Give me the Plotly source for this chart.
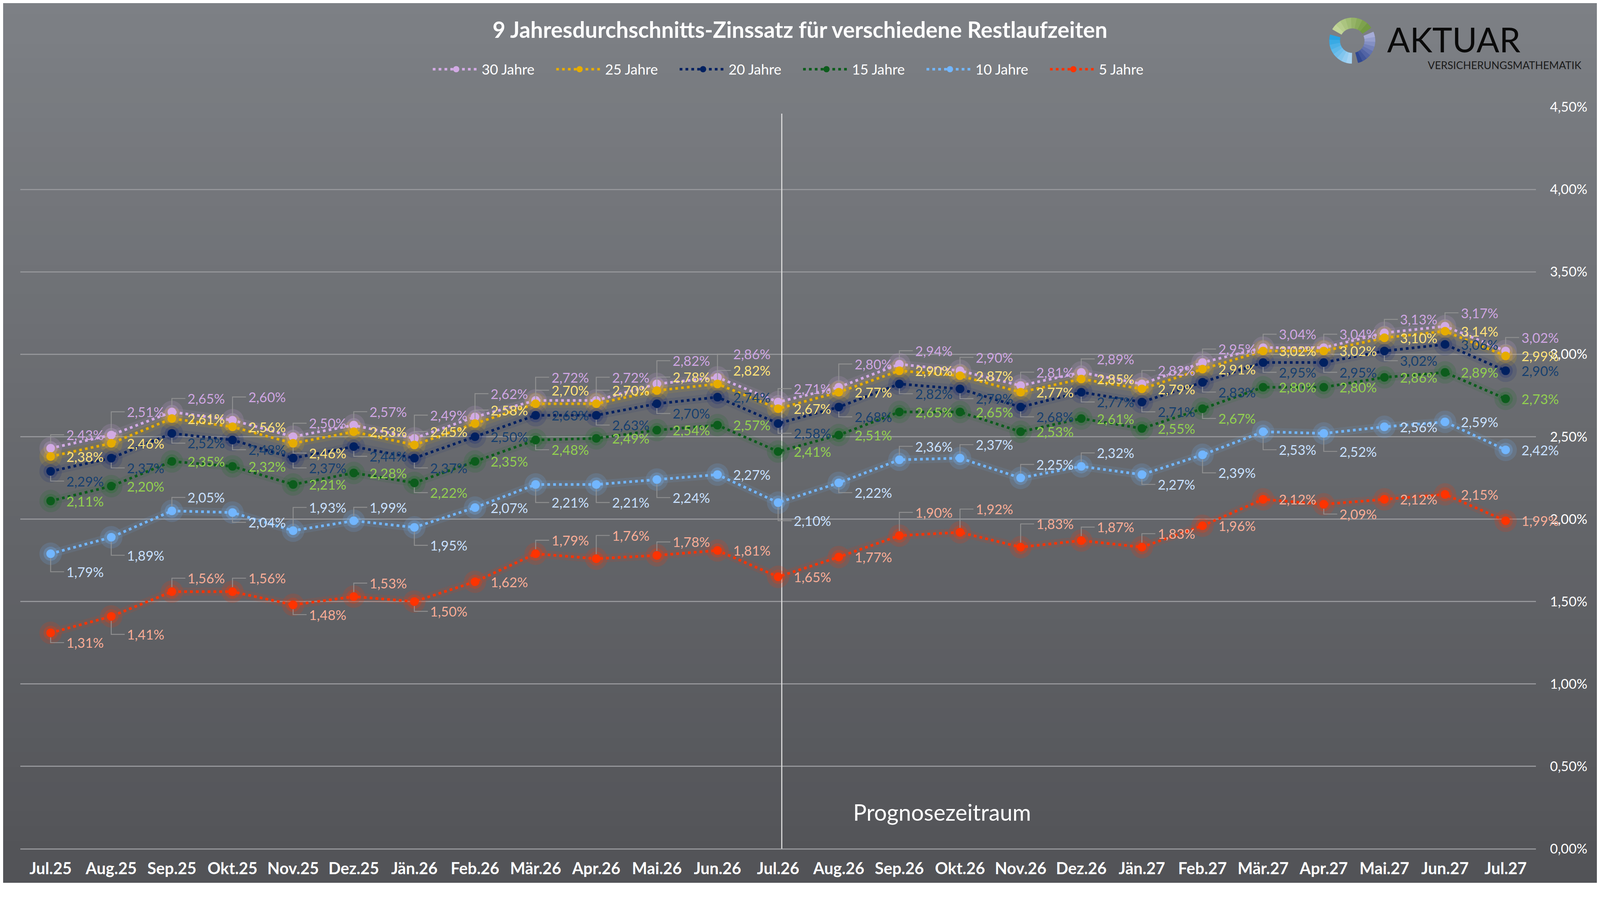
import numpy as np
import plotly.graph_objects as go

months = ["Jul.25", "Aug.25", "Sep.25", "Okt.25", "Nov.25", "Dez.25", "Jän.26",
          "Feb.26", "Mär.26", "Apr.26", "Mai.26", "Jun.26", "Jul.26", "Aug.26",
          "Sep.26", "Okt.26", "Nov.26", "Dez.26", "Jän.27", "Feb.27", "Mär.27",
          "Apr.27", "Mai.27", "Jun.27", "Jul.27"]

j30 = [2.43, 2.51, 2.65, 2.60, 2.50, 2.57, 2.49, 2.62, 2.72, 2.72, 2.82, 2.86, 2.71,
       2.80, 2.94, 2.90, 2.81, 2.89, 2.82, 2.95, 3.04, 3.04, 3.13, 3.17, 3.02]
j25 = [2.38, 2.46, 2.61, 2.56, 2.46, 2.53, 2.45, 2.58, 2.70, 2.70, 2.78, 2.82, 2.67,
       2.77, 2.90, 2.87, 2.77, 2.85, 2.79, 2.91, 3.02, 3.02, 3.10, 3.14, 2.99]
j20 = [2.29, 2.37, 2.52, 2.48, 2.37, 2.44, 2.37, 2.50, 2.63, 2.63, 2.70, 2.74, 2.58,
       2.68, 2.82, 2.79, 2.68, 2.77, 2.71, 2.83, 2.95, 2.95, 3.02, 3.06, 2.90]
j15 = [2.11, 2.20, 2.35, 2.32, 2.21, 2.28, 2.22, 2.35, 2.48, 2.49, 2.54, 2.57, 2.41,
       2.51, 2.65, 2.65, 2.53, 2.61, 2.55, 2.67, 2.80, 2.80, 2.86, 2.89, 2.73]
j10 = [1.79, 1.89, 2.05, 2.04, 1.93, 1.99, 1.95, 2.07, 2.21, 2.21, 2.24, 2.27, 2.10,
       2.22, 2.36, 2.37, 2.25, 2.32, 2.27, 2.39, 2.53, 2.52, 2.56, 2.59, 2.42]
j5 = [1.31, 1.41, 1.56, 1.56, 1.48, 1.53, 1.50, 1.62, 1.79, 1.76, 1.78, 1.81, 1.65,
      1.77, 1.90, 1.92, 1.83, 1.87, 1.83, 1.96, 2.12, 2.09, 2.12, 2.15, 1.99]

names = ["30 Jahre", "25 Jahre", "20 Jahre", "15 Jahre", "10 Jahre", "5 Jahre"]
series = [j30, j25, j20, j15, j10, j5]

# label placement per point: r = right, u/U = above right, d/D = below right
label_pos = [
    "uUuUuuUUUUUUuUuuuuuuuuuuu",
    "rrrrdruuuuuurrrrrrrrrrrrr",
    "dddddddrrddrdddddddddddrr",
    "rrrrrrdrdrrrrrrrrrrdrrrrr",
    "DDudUuDrDDDrDduuuudDDDrrr",
    "dDuududruUurrrUUUuurrdrrr",
]
offs = {"r": 0, "u": -36, "U": -62, "d": 26, "D": 48}

line_col = ["#d2aae4", "#e6ac00", "#002060", "#0c5c1c", "#72b6ff", "#ff3300"]
glow_rgb = ["210,170,228", "230,172,0", "20,40,120", "20,110,30", "114,182,255", "255,51,0"]
label_col = ["#cfa6e2", "#ffe27a", "#17406f", "#92d050", "#c8e0ff", "#f8ad97"]

# layout is designed in screenshot pixels and converted to css pixels
IW, IH = 4268, 2364
K = 4268 / 4096
PAD = 8


def s(v):
    return v / K


def cx_(x):
    return x / K - PAD


W = round(s(IW) - 2 * PAD)
H = round(s(IH) - 2 * PAD)
L = cx_(54)
T = cx_(285)
R = W - cx_(4097)
B = H - cx_(2265)
PW, PH = W - L - R, H - T - B


def px(x):
    return (cx_(x) - L) / PW


def py(y):
    return (H - B - cx_(y)) / PH


FONT = "Lato"
fig = go.Figure()

# glow
for k, vals in enumerate(series):
    fig.add_trace(go.Scatter(x=months, y=vals, mode="lines", showlegend=False, hoverinfo="skip",
                             line=dict(color="rgba(%s,0.10)" % glow_rgb[k], width=s(22))))
    fig.add_trace(go.Scatter(x=months, y=vals, mode="markers", showlegend=False, hoverinfo="skip",
                             marker=dict(size=s(60), color="rgba(%s,0.16)" % glow_rgb[k])))
    fig.add_trace(go.Scatter(x=months, y=vals, mode="markers", showlegend=False, hoverinfo="skip",
                             marker=dict(size=s(38), color="rgba(%s,0.25)" % glow_rgb[k])))

for k, vals in enumerate(series):
    fig.add_trace(go.Scatter(x=months, y=vals, mode="lines+markers", name=names[k],
                             line=dict(color=line_col[k], width=s(7), dash="7px,8px"),
                             marker=dict(size=s(23), color=line_col[k])))

shapes = []
# gradient background
top = np.array([126, 129, 134])
bot = np.array([82, 83, 87])
nb = 60
for i in range(nb):
    c = top + (bot - top) * (i + 0.5) / nb
    shapes.append(dict(type="rect", xref="paper", yref="paper", layer="below",
                       x0=px(-20), x1=px(IW + 20),
                       y0=py(IH * i / nb - 2), y1=py(IH * (i + 1) / nb + 2),
                       line=dict(width=0),
                       fillcolor="rgb(%d,%d,%d)" % tuple(c)))

# forecast separator
shapes.append(dict(type="line", xref="x", yref="y", x0=12.06, x1=12.06, y0=0, y1=4.46,
                   layer="between", line=dict(color="#dcdcdc", width=s(3))))

annotations = []
for k, vals in enumerate(series):
    for i, v in enumerate(vals):
        c = label_pos[k][i]
        dy = offs[c]
        annotations.append(dict(x=i, y=v, xref="x", yref="y", showarrow=False,
                                text=("%.2f" % v).replace(".", ",") + "%",
                                xanchor="left", yanchor="middle", xshift=s(40), yshift=-s(dy),
                                font=dict(family=FONT, size=s(36), color=label_col[k])))
        if c != "r":
            sg = 1 if dy < 0 else -1
            path = "M 0,%.1f L 0,%.1f L %.1f,%.1f" % (sg * s(12), -s(dy), s(36), -s(dy))
            shapes.append(dict(type="path", xref="x", yref="y", xsizemode="pixel", ysizemode="pixel",
                               xanchor=i, yanchor=v, path=path, layer="above",
                               line=dict(color="rgba(150,150,150,0.85)", width=s(2.5))))

annotations.append(dict(x=px(2273), y=py(2167), xref="paper", yref="paper", showarrow=False,
                        text="Prognosezeitraum", xanchor="left", yanchor="middle",
                        font=dict(family=FONT, size=s(60), color="white")))

# logo
lx, ly, ro, ri = 3607, 108, 61, 33


def sector(a0, a1, col):
    a = np.radians(np.linspace(a0, a1, 24))
    pts = [(lx + ro * np.cos(t), ly - ro * np.sin(t)) for t in a]
    pts += [(lx + ri * np.cos(t), ly - ri * np.sin(t)) for t in a[::-1]]
    d = "M " + " L ".join("%.5f,%.5f" % (px(p[0]), py(p[1])) for p in pts) + " Z"
    return dict(type="path", xref="paper", yref="paper", path=d, fillcolor=col,
                line=dict(color=col, width=1), layer="above")


def grad(a0, a1, c0, c1, n=8):
    c0, c1 = np.array(c0), np.array(c1)
    step = (a1 - a0) / n
    for j in range(n):
        c = c0 + (c1 - c0) * (j + 0.5) / n
        shapes.append(sector(a0 + j * step, a0 + (j + 1) * step + 0.5 * np.sign(step),
                             "rgb(%d,%d,%d)" % tuple(c)))


grad(150, 35, (200, 218, 160), (110, 150, 60))
grad(165, 268, (30, 160, 225), (175, 215, 245))
grad(-75, 22, (40, 65, 140), (175, 180, 220))

annotations.append(dict(x=px(3698), y=py(104), xref="paper", yref="paper", showarrow=False,
                        text="AKTUAR", xanchor="left", yanchor="middle",
                        font=dict(family=FONT, size=s(90), color="#0a0a0a")))
annotations.append(dict(x=px(4220), y=py(173), xref="paper", yref="paper", showarrow=False,
                        text="VERSICHERUNGSMATHEMATIK", xanchor="right", yanchor="middle",
                        font=dict(family=FONT, size=s(28), color="#1a1a1a")))

fig.update_layout(
    width=W, height=H,
    margin=dict(l=L, r=R, t=T, b=B),
    paper_bgcolor="#6a6c70",
    plot_bgcolor="rgba(0,0,0,0)",
    separators=",.",
    title=dict(text="<b>9 Jahresdurchschnitts-Zinssatz für verschiedene Restlaufzeiten</b>",
               x=cx_(2134) / W, xref="container", xanchor="center",
               y=1 - cx_(80) / H, yref="container", yanchor="middle",
               font=dict(family=FONT, size=s(59), color="white")),
    legend=dict(orientation="h", xref="container", yref="container", x=cx_(2137) / W,
                xanchor="center", y=1 - cx_(185) / H, yanchor="middle", itemwidth=round(s(125)),
                entrywidth=round(s(189)),
                font=dict(family=FONT, size=s(38), color="white"),
                bgcolor="rgba(0,0,0,0)"),
    xaxis=dict(type="category", range=[-0.5, 24.5], showgrid=False, zeroline=False,
               ticks="", showline=False, ticklabelstandoff=round(s(24)),
               tickfont=dict(family=FONT, size=s(43), color="white", weight="bold")),
    yaxis=dict(range=[0, 4.5001], dtick=0.5, tickformat=".2f", ticksuffix="%", side="right",
               showgrid=True, gridcolor="#95969a", gridwidth=s(3),
               zeroline=True, zerolinecolor="#95969a", zerolinewidth=s(3),
               ticks="", showline=False, ticklabelstandoff=round(s(36)),
               tickfont=dict(family=FONT, size=s(36), color="white")),
    shapes=shapes,
    annotations=annotations,
    showlegend=True,
)

fig.write_html("out.html")
